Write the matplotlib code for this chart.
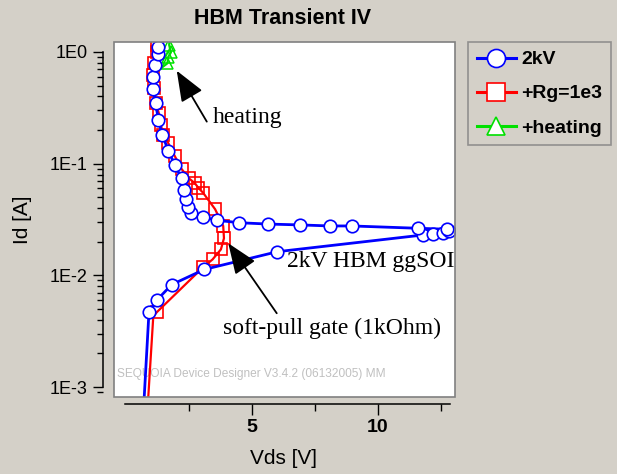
import matplotlib
matplotlib.use("Agg")
import matplotlib.pyplot as plt
from matplotlib.lines import Line2D
from matplotlib.patches import Rectangle
import numpy as np

# ---------------- data ----------------
title = "HBM Transient IV"
xlabel = "Vds [V]"
ylabel = "Id [A]"
series_names = ["2kV", "+Rg=1e3", "+heating"]

v_2kv = [0.74, 0.93, 1.24, 1.83, 3.12, 6.02, 11.79, 12.17, 12.59, 12.82, 12.72, 11.60,
         8.96, 8.10, 6.91, 5.66, 4.51, 3.64, 3.05, 2.59, 2.46, 2.41, 2.32, 2.22, 1.96,
         1.70, 1.46, 1.30, 1.20, 1.10, 1.10, 1.17, 1.28, 1.30, 1.34]
i_2kv = [8.0e-4, 4.68e-3, 6.0e-3, 8.26e-3, 1.13e-2, 1.63e-2, 2.30e-2, 2.35e-2, 2.38e-2,
         2.51e-2, 2.59e-2, 2.64e-2, 2.77e-2, 2.77e-2, 2.83e-2, 2.88e-2, 2.96e-2, 3.11e-2,
         3.33e-2, 3.64e-2, 4.12e-2, 4.78e-2, 5.82e-2, 7.40e-2, 9.64e-2, 0.130, 0.181,
         0.246, 0.347, 0.464, 0.601, 0.765, 0.96, 1.11, 1.35]

v_rg = [0.90, 1.10, 1.24, 3.07, 3.45, 3.78, 3.90, 3.87, 3.55, 3.07, 2.88, 2.75, 2.51,
        2.23, 1.96, 1.70, 1.50, 1.40, 1.32, 1.21, 1.11, 1.08, 1.12, 1.24, 1.26, 1.29]
i_rg = [8.0e-4, 4.27e-3, 4.68e-3, 1.18e-2, 1.39e-2, 1.71e-2, 2.15e-2, 2.77e-2, 3.91e-2,
        5.50e-2, 6.10e-2, 6.68e-2, 7.40e-2, 8.91e-2, 0.116, 0.152, 0.181, 0.222, 0.283,
        0.348, 0.473, 0.622, 0.792, 1.007, 1.156, 1.35]

v_heat = [1.46, 1.30, 1.20, 1.10, 1.10, 1.35, 1.66, 1.70, 1.80, 1.73, 1.76]
i_heat = [0.181, 0.246, 0.347, 0.464, 0.601, 0.70, 0.792, 0.908, 0.993, 1.156, 1.35]

ytick_vals = [1e-3, 1e-2, 1e-1, 1e0]
ytick_labels = ["1E-3", "1E-2", "1E-1", "1E0"]
xtick_vals = [5, 10]
xtick_labels = ["5", "10"]
xminor_vals = [2.5, 7.5, 12.5]

# (text, arrow tip, arrow tail, text anchor)
notes = [("heating", (2.03, 0.68), (3.22, 0.238), (3.47, 0.257)),
         ("soft-pull gate (1kOhm)", (4.07, 1.94e-2), (5.99, 4.58e-3), (3.86, 3.38e-3))]
note_plain = ("2kV HBM ggSOI", (6.40, 1.32e-2))
watermark = "SEQUOIA Device Designer V3.4.2 (06132005) MM"

# ---------------- figure ----------------
W, H = 617, 474
BG = "#d4d0c8"
plt.rcParams["font.family"] = ["Liberation Sans", "DejaVu Sans"]
fig = plt.figure(figsize=(W / 100, H / 100), dpi=100, facecolor=BG)

L, R, T, B = 114, 455, 42, 397
ax = fig.add_axes([L / W, 1 - B / H, (R - L) / W, (B - T) / H])
ax.set_facecolor("white")
ax.set_yscale("log")
ax.set_xlim(-0.455, 13.05)
ax.set_ylim(10 ** -3.089, 10 ** 0.0895)

blue, red, green = "#0000ff", "#ff0000", "#00e000"

ax.plot(v_heat, i_heat, color=green, lw=1.6, marker="^", ms=8.5, mfc="none",
        mec=green, mew=1.1, markevery=[6, 7, 8, 9], zorder=3)
ax.plot(v_rg, i_rg, color=red, lw=1.6, marker="s", ms=9, mfc="none", mec=red,
        mew=1.2, markevery=list(range(2, len(v_rg) - 1)), zorder=4)
ax.plot(v_2kv, i_2kv, color=blue, lw=2.0, marker="o", ms=9, mfc="white", mec=blue,
        mew=1.2, markevery=list(range(1, len(v_2kv) - 1)), zorder=5)

# axes styling
for s in ["top", "right"]:
    ax.spines[s].set_visible(False)
ax.spines["left"].set_position(("outward", 8))
ax.spines["bottom"].set_position(("outward", 5))
ax.spines["left"].set_bounds(1e-3, 1)
ax.spines["bottom"].set_bounds(0, 12.85)
ax.spines["left"].set_linewidth(1.1)
ax.spines["bottom"].set_linewidth(1.1)

ax.set_yticks(ytick_vals)
ax.set_yticklabels(ytick_labels, fontsize=13)
ax.set_xticks(xtick_vals)
ax.set_xticklabels(xtick_labels, fontsize=14, fontweight="bold")
ax.set_xticks(xminor_vals, minor=True)
ax.tick_params(axis="y", which="major", length=7, width=1, direction="out", pad=4)
ax.tick_params(axis="y", which="minor", length=4, width=1, direction="out")
ax.tick_params(axis="x", which="major", length=8, width=1, direction="out", pad=3)
ax.tick_params(axis="x", which="minor", length=5, width=1, direction="out")

# sunken frame of the plot area
fig.patches.append(Rectangle((L / W, 1 - B / H), (R - L) / W, (B - T) / H,
                             transform=fig.transFigure, fill=False,
                             edgecolor="#808080", lw=1.2, zorder=10))

fig.text(283 / W, 1 - 18 / H, title, ha="center", va="center",
         fontsize=15.5, fontweight="bold")
fig.text(283 / W, 1 - 458 / H, xlabel, ha="center", va="center", fontsize=15)
fig.text(22 / W, 1 - 220 / H, ylabel, ha="center", va="center", fontsize=15,
         rotation=90)

serif = ["Liberation Serif", "DejaVu Serif"]
for txt, tip, tail, pos in notes:
    ax.annotate("", xy=tip, xytext=tail,
                arrowprops=dict(arrowstyle="-|>,head_length=1.9,head_width=0.75",
                                color="black", lw=1.3, shrinkA=0, shrinkB=0),
                zorder=6)
    ax.text(pos[0], pos[1], txt, family=serif, fontsize=17, ha="left", va="center")
ax.text(note_plain[1][0], note_plain[1][1], note_plain[0], family=serif,
        fontsize=17, ha="left", va="center")
ax.text(-0.33, 1.32e-3, watermark, fontsize=8.6, color="#c0c0c0", ha="left",
        va="center")

handles = [
    Line2D([], [], color=blue, lw=2.2, marker="o", ms=13, mfc="white", mec=blue, mew=1.2),
    Line2D([], [], color=red, lw=2.2, marker="s", ms=13, mfc="white", mec=red, mew=1.2),
    Line2D([], [], color=green, lw=2.2, marker="^", ms=13, mfc="white", mec=green, mew=1.2),
]
leg = fig.legend(handles, series_names, loc="upper left",
                 bbox_to_anchor=(468 / W, 1 - 42 / H), frameon=True, fancybox=False,
                 prop=dict(family="Liberation Sans", weight="bold", size=14),
                 handlelength=2.0, handletextpad=0.3, labelspacing=0.85,
                 borderpad=0.45, borderaxespad=0)
leg.get_frame().set_facecolor(BG)
leg.get_frame().set_edgecolor("#808080")
leg.get_frame().set_linewidth(1.2)

fig.savefig("out.png", dpi=100, facecolor=BG)
